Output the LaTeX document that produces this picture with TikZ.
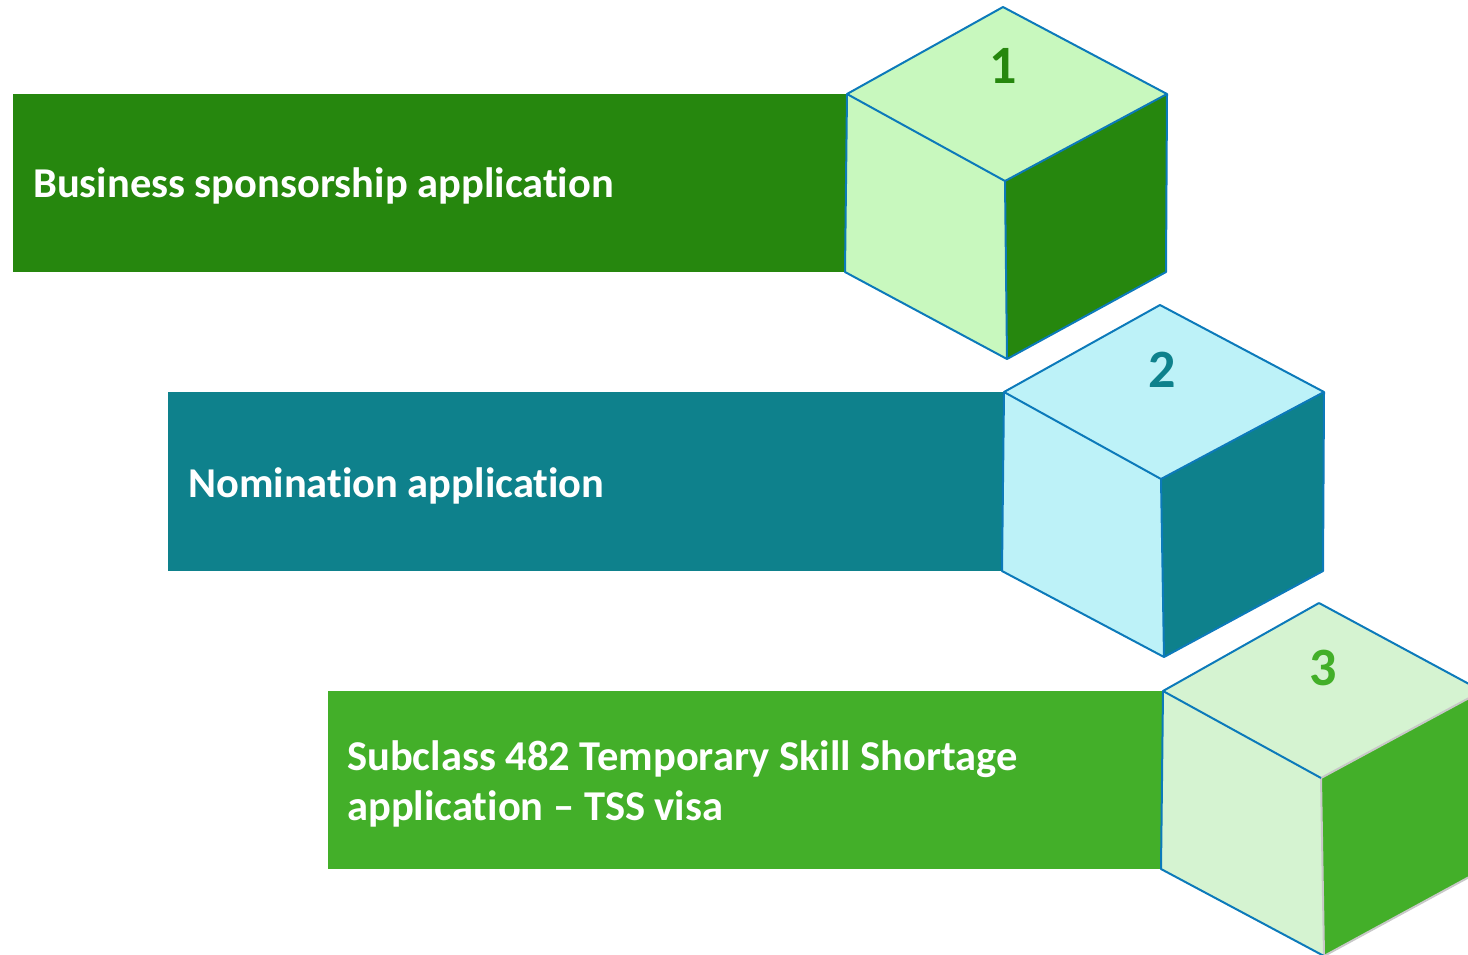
\documentclass[tikz,border=0pt]{standalone}
\usepackage{fontspec}
\setmainfont{Carlito}[Ligatures=NoCommon]
\definecolor{dkgreen}{RGB}{38,135,14}
\definecolor{ltgreen}{RGB}{200,248,190}
\definecolor{teal2}{RGB}{14,129,140}
\definecolor{ltcyan}{RGB}{189,242,248}
\definecolor{brgreen}{RGB}{67,175,41}
\definecolor{ltgreen3}{RGB}{213,243,209}
\definecolor{edgeblue}{RGB}{12,122,186}
\definecolor{edgegray}{RGB}{200,200,200}
\tikzset{
  edge/.style={draw=edgeblue, line width=2pt, line join=round},
  grayedge/.style={draw=edgegray, line width=2pt, line join=round},
  bartext/.style={anchor=base west, inner sep=0pt, text=white, font=\bfseries\fontsize{42.5}{51}\selectfont, align=left},
  numtext/.style={inner sep=0pt, font=\bfseries\fontsize{54}{54}\selectfont}
}
\begin{document}
\begin{tikzpicture}[x=1pt,y=-1pt]
\useasboundingbox (0,0) rectangle (1468,954);
\clip (0,0) rectangle (1468,954);
% bars
\fill[dkgreen] (13,94) rectangle (848,272);
\fill[teal2] (168,392) rectangle (1004,571);
\fill[brgreen] (328,691) rectangle (1163,869);
% cube 1
\coordinate (a1) at (1003,7);
\coordinate (b1) at (847,94);
\coordinate (c1) at (1167,94);
\coordinate (d1) at (1005,181);
\coordinate (e1) at (845,272);
\coordinate (f1) at (1007,359);
\coordinate (g1) at (1166,272);
\fill[ltgreen] (a1) -- (c1) -- (d1) -- (b1) -- cycle;
\fill[ltgreen] (b1) -- (d1) -- (f1) -- (e1) -- cycle;
\fill[dkgreen] (d1) -- (c1) -- (g1) -- (f1) -- cycle;
\draw[edge] (a1) -- (c1) -- (g1) -- (f1) -- (e1) -- (b1) -- cycle;
\draw[edge] (b1) -- (d1) -- (c1);
\draw[edge] (d1) -- (f1);
% cube 2
\coordinate (a2) at (1160,305);
\coordinate (b2) at (1004,392);
\coordinate (c2) at (1324,392);
\coordinate (d2) at (1161,479);
\coordinate (e2) at (1002,571);
\coordinate (f2) at (1164,657);
\coordinate (g2) at (1323,571);
\fill[ltcyan] (a2) -- (c2) -- (d2) -- (b2) -- cycle;
\fill[ltcyan] (b2) -- (d2) -- (f2) -- (e2) -- cycle;
\fill[teal2] (d2) -- (c2) -- (g2) -- (f2) -- cycle;
\draw[edge] (a2) -- (c2) -- (g2) -- (f2) -- (e2) -- (b2) -- cycle;
\draw[edge] (b2) -- (d2) -- (c2);
\draw[edge] (d2) -- (f2);
% cube 3
\coordinate (a3) at (1319,603);
\coordinate (b3) at (1163,691);
\coordinate (c3) at (1482,691);
\coordinate (d3) at (1321,778);
\coordinate (e3) at (1161,869);
\coordinate (f3) at (1324,956);
\coordinate (g3) at (1482,870);
\fill[ltgreen3] (a3) -- (c3) -- (d3) -- (b3) -- cycle;
\fill[ltgreen3] (b3) -- (d3) -- (f3) -- (e3) -- cycle;
\fill[brgreen] (d3) -- (c3) -- (g3) -- (f3) -- cycle;
\draw[grayedge] (d3) -- (c3);
\draw[grayedge] (d3) -- (f3) -- (g3);
\draw[edge] (a3) -- (c3);
\draw[edge] (f3) -- (e3) -- (b3) -- (a3);
\draw[edge] (b3) -- (d3);
% texts
\node[bartext] (t1) at (33,197) {Business sponsorship application};
\node[bartext] (t2) at (188,497) {Nomination application};
\node[bartext] (t3a) at (347,770) {Subclass 482 Temporary Skill Shortage};
\node[bartext] (t3b) at (347,820) {application – TSS visa};
\node[numtext, text=dkgreen] (n1) at (1003,66) {1};
\node[numtext, text=teal2] (n2) at (1162,370) {2};
\node[numtext, text=brgreen] (n3) at (1323,668) {3};
\end{tikzpicture}
\end{document}
